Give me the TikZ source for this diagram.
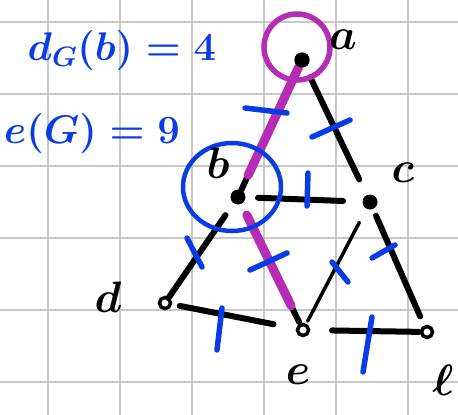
\RequirePackage{fix-cm}
\documentclass[tikz,border=0pt]{standalone}
\definecolor{penblue}{RGB}{10,60,230}
\definecolor{penmag}{RGB}{180,45,180}
\definecolor{gridgray}{RGB}{200,200,200}
\tikzset{
  vtx/.style={circle,fill=black,inner sep=0pt,minimum size=15pt},
  ovtx/.style={circle,draw=black,line width=3.5pt,fill=white,inner sep=0pt,minimum size=11pt},
  edge/.style={line width=6pt,line cap=round,black},
  thinedge/.style={line width=3.5pt,line cap=round,black},
  hilite/.style={line width=9pt,line cap=round,penmag},
  tick/.style={line width=5.5pt,line cap=round,penblue},
  lbl/.style={font=\fontsize{44}{44}\selectfont\boldmath,text=black,inner sep=0pt},
  note/.style={font=\fontsize{40}{40}\selectfont\boldmath,text=penblue,inner sep=0pt}
}
\begin{document}
\begin{tikzpicture}[x=1pt,y=-1pt]
\useasboundingbox (0,0) rectangle (458,415);
\fill[white] (0,0) rectangle (458,415);
% grid
\foreach \gx in {48,120,192,264,336,408}
  \draw[gridgray,line width=1.5pt] (\gx,0) -- (\gx,415);
\foreach \gy in {22,94,166,238,310,382}
  \draw[gridgray,line width=1.5pt] (0,\gy) -- (458,\gy);
% vertices
\node[vtx] (a) at (302,60) {};
\node[vtx] (b) at (238,197) {};
\node[vtx] (c) at (370,202) {};
\node[ovtx] (d) at (165,303) {};
\node[ovtx] (e) at (303,330) {};
\node[ovtx] (f) at (427,332) {};
% edges
\draw[edge,shorten <=8pt,shorten >=8pt] (a.center) -- (b.center);
\draw[edge,shorten <=19pt,shorten >=25pt] (a.center) -- (c.center);
\draw[edge,shorten <=20pt,shorten >=27pt] (b.center) -- (c.center);
\draw[edge,shorten <=22pt,shorten >=6pt] (b.center) -- (d.center);
\draw[edge,shorten <=20pt,shorten >=9pt] (b.center) -- (e.center);
\draw[edge,shorten <=15pt,shorten >=30pt] (d.center) -- (e.center);
\draw[thinedge,shorten <=23pt,shorten >=10pt] (c.center) -- (e.center);
\draw[edge,shorten <=15pt,shorten >=17pt] (c.center) -- (f.center);
\draw[edge,shorten <=29pt,shorten >=8pt] (e.center) -- (f.center);
% highlighted path
\draw[hilite,shorten <=8pt,shorten >=24pt] (a.center) -- (b.center);
\draw[hilite,shorten <=20pt,shorten >=27pt] (b.center) -- (e.center);
\node[vtx] at (a) {};
% circles
\draw[penmag,line width=5.5pt] (297,47) circle[radius=33pt];
\draw[penblue,line width=4.5pt] (232,187) ellipse[x radius=49pt,y radius=44pt];
% ticks
\draw[tick] (245,108) -- (287,113);
\draw[tick] (312,137) -- (350,120);
\draw[tick] (308,173) -- (307,206);
\draw[tick] (187,238) -- (202,267);
\draw[tick] (250,270) -- (287,253);
\draw[tick] (332,262) -- (348,282);
\draw[tick] (372,258) -- (395,245);
\draw[tick] (222,308) -- (217,350);
\draw[tick] (372,317) -- (363,372);
% labels
\node[lbl] (la) at (343,40) {$a$};
\node[lbl] (lb) at (218,163) {$b$};
\node[lbl] (lc) at (403,173) {$c$};
\node[lbl] (ld) at (108,297) {$d$};
\node[lbl] (le) at (298,375) {$e$};
\node[lbl] (lf) at (443,380) {$\ell$};
% notes
\node[note] (n1) at (122,50) {$d_G(b)=4$};
\node[note] (n2) at (92,133) {$e(G)=9$};
\end{tikzpicture}
\end{document}
